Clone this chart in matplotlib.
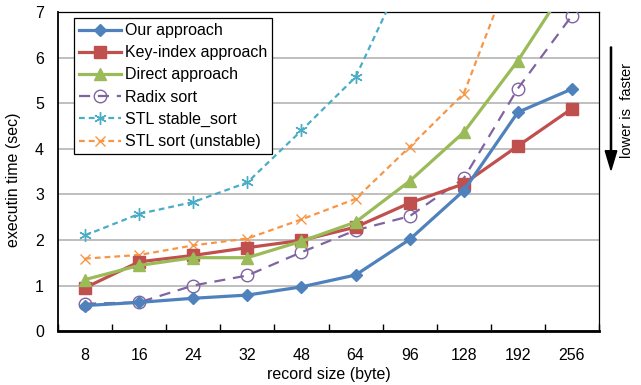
import matplotlib
matplotlib.use("Agg")
import matplotlib.pyplot as plt
import numpy as np

plt.rcParams['font.family'] = ['Liberation Sans', 'DejaVu Sans']

# data ------------------------------------------------------------
sizes = ['8', '16', '24', '32', '48', '64', '96', '128', '192', '256']
our_approach = [0.56, 0.63, 0.72, 0.79, 0.97, 1.23, 2.01, 3.08, 4.80, 5.31]
key_index = [0.95, 1.52, 1.66, 1.83, 1.99, 2.28, 2.81, 3.23, 4.06, 4.88]
direct = [1.13, 1.44, 1.61, 1.61, 1.97, 2.39, 3.29, 4.36, 5.93, 7.75]
radix = [0.60, 0.63, 1.00, 1.22, 1.73, 2.21, 2.52, 3.35, 5.32, 6.92]
stl_stable = [2.10, 2.57, 2.83, 3.26, 4.40, 5.57, 8.10, 10.5, 13.5, 17.0]
stl_sort = [1.59, 1.67, 1.88, 2.03, 2.45, 2.90, 4.04, 5.21, 8.30, 10.5]

labels = ['Our approach', 'Key-index approach', 'Direct approach',
          'Radix sort', 'STL stable_sort', 'STL sort (unstable)']

FS = 11.5

#------------------------------------------------------------------
fig = plt.figure(figsize=(6.41, 3.85), dpi=100)
ax = fig.add_axes([0.0905, 0.140, 0.844, 0.829])

x = np.arange(len(sizes))

ax.plot(x, our_approach, color='#4F81BD', lw=2.3, marker='D', ms=6,
        mfc='#4F81BD', mec='#4F81BD', label=labels[0], zorder=5)
ax.plot(x, key_index, color='#C0504D', lw=2.3, marker='s', ms=8,
        mfc='#C0504D', mec='#C0504D', label=labels[1], zorder=4)
ax.plot(x, direct, color='#9BBB59', lw=2.3, marker='^', ms=8,
        mfc='#9BBB59', mec='#9BBB59', label=labels[2], zorder=4)
ax.plot(x, radix, color='#8064A2', lw=1.6, ls=(0, (5, 3.5)), marker='o', ms=9,
        mfc='none', mec='#8064A2', mew=1.0, label=labels[3], zorder=3)
ax.plot(x, stl_stable, color='#4BACC6', lw=1.6, ls=(0, (2.6, 1.8)), marker=(6, 2, 0), ms=9,
        mec='#4BACC6', mew=1.0, label=labels[4], zorder=3)
ax.plot(x, stl_sort, color='#F79646', lw=1.6, ls=(0, (2.6, 1.8)), marker='x', ms=7,
        mec='#F79646', mew=1.0, label=labels[5], zorder=3)

ax.set_ylim(0, 7)
ax.set_xlim(-0.5, len(sizes) - 0.5)
ax.set_yticks(range(0, 8))
ax.yaxis.grid(True, color='#b4b4b4', lw=1.2)
ax.set_axisbelow(True)
ax.tick_params(axis='y', length=0, labelsize=FS, pad=10)

# ticks at category borders, labels in the middle
ax.set_xticks(np.arange(-0.5, len(sizes), 1.0))
ax.set_xticklabels([])
ax.set_xticks(x, minor=True)
ax.set_xticklabels(sizes, minor=True)
ax.tick_params(axis='x', which='major', direction='in', length=5, width=1)
ax.tick_params(axis='x', which='minor', length=0, labelsize=FS, pad=12)

for s in ['top', 'right']:
    ax.spines[s].set_linewidth(0.9)
ax.spines['left'].set_linewidth(1.3)
ax.spines['bottom'].set_linewidth(2.0)

ax.set_xlabel('record size (byte)', fontsize=FS, labelpad=3)
ax.set_ylabel('executin time (sec)', fontsize=FS)
ax.yaxis.set_label_coords(-0.068, 0.475)

leg = ax.legend(loc='upper left', bbox_to_anchor=(0.024, 0.99), fontsize=FS,
                handlelength=2.6, labelspacing=0.45, borderpad=0.3,
                borderaxespad=0.2, handletextpad=0.3, fancybox=False,
                framealpha=1, edgecolor='black')
leg.get_frame().set_linewidth(0.9)

# "lower is faster" note on the right
fig.patches.append(matplotlib.patches.FancyArrow(
    611 / 641, 1 - 47 / 385, 0, -(123 / 385), width=0.0018, head_width=0.018,
    head_length=0.05, length_includes_head=True, color='black',
    transform=fig.transFigure))
fig.text(627 / 641, 1 - 110 / 385, 'lower is  faster', rotation=90,
         ha='center', va='center', fontsize=10.5)

fig.savefig('out.png', dpi=100)
